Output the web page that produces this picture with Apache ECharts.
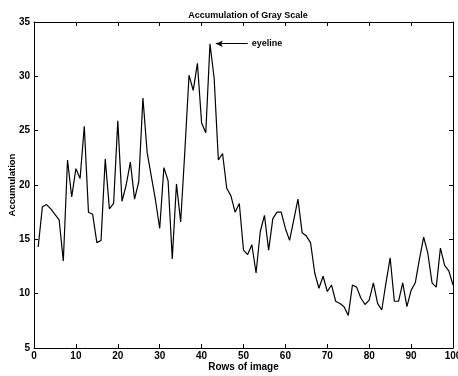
<!DOCTYPE html>
<html>
<head>
<meta charset="utf-8">
<script src="https://cdn.jsdelivr.net/npm/echarts@6/dist/echarts.min.js"></script>
<style>
  html, body { margin: 0; padding: 0; background: #fff; }
  #chart { width: 458px; height: 376px; }
</style>
</head>
<body>
<div id="chart"></div>
<script>
// rows of image 1..100 and the accumulated grey value
const rows = Array.from({ length: 100 }, (_, i) => i + 1)
const accumulation = [
  14.3, 18.0, 18.2, 17.8, 17.3, 16.8, 13.0, 22.3, 18.9, 21.5,
  20.6, 25.4, 17.5, 17.3, 14.7, 14.9, 22.4, 17.8, 18.3, 25.9,
  18.5, 20.0, 22.1, 18.7, 20.3, 28.0, 23.0, 20.8, 18.6, 16.0,
  21.6, 20.4, 13.2, 20.1, 16.6, 23.1, 30.1, 28.7, 31.2, 25.7,
  24.8, 33.0, 29.8, 22.3, 22.9, 19.7, 19.0, 17.5, 18.3, 14.0,
  13.6, 14.5, 11.9, 15.7, 17.2, 14.0, 16.9, 17.5, 17.5, 16.0,
  14.9, 16.8, 18.7, 15.6, 15.3, 14.7, 11.9, 10.5, 11.6, 10.2,
  10.8, 9.3, 9.1, 8.8, 8.0, 10.8, 10.6, 9.6, 9.0, 9.4,
  11.0, 9.1, 8.5, 11.0, 13.3, 9.3, 9.3, 11.0, 8.8, 10.3,
  11.0, 13.2, 15.2, 13.7, 11.0, 10.6, 14.2, 12.6, 12.1, 10.8
]
const xTicks = [0, 10, 20, 30, 40, 50, 60, 70, 80, 90, 100]
const yTicks = [5, 10, 15, 20, 25, 30, 35]
const peakRow = 42 // eyeline

const chart = echarts.init(document.getElementById('chart'))
const font = 'Liberation Sans, Arial, sans-serif'
const tickStyle = { color: '#000', fontFamily: font, fontWeight: 'bold', fontSize: 10 }

const axisCommon = {
  axisLine: { show: true, onZero: false, lineStyle: { color: '#000', width: 1 } },
  axisTick: { show: true, inside: true, length: 4, lineStyle: { color: '#000' } },
  splitLine: { show: false }
}

chart.setOption({
  animation: false,
  title: {
    text: 'Accumulation of Gray Scale',
    left: 243,
    textAlign: 'center',
    top: 6,
    textStyle: { color: '#000', fontFamily: font, fontWeight: 'bold', fontSize: 9 }
  },
  grid: { left: 34, right: 5, top: 22, bottom: 28, containLabel: false, outerBoundsMode: 'none' },
  xAxis: [
    {
      type: 'value',
      min: xTicks[0],
      max: xTicks[xTicks.length - 1],
      interval: 10,
      name: 'Rows of image',
      nameLocation: 'middle',
      nameGap: 14,
      nameMoveOverlap: false,
      nameTextStyle: { color: '#000', fontFamily: font, fontWeight: 'bold', fontSize: 10 },
      axisLabel: Object.assign({ margin: 3 }, tickStyle),
      ...axisCommon
    },
    {
      type: 'value',
      position: 'top',
      min: xTicks[0],
      max: xTicks[xTicks.length - 1],
      interval: 10,
      axisLabel: { show: false },
      ...axisCommon
    }
  ],
  yAxis: [
    {
      type: 'value',
      min: yTicks[0],
      max: yTicks[yTicks.length - 1],
      interval: 5,
      name: 'Accumulation',
      nameLocation: 'middle',
      nameGap: 17,
      nameMoveOverlap: false,
      nameTextStyle: { color: '#000', fontFamily: font, fontWeight: 'bold', fontSize: 9.5 },
      axisLabel: Object.assign({ margin: 4 }, tickStyle),
      ...axisCommon
    },
    {
      type: 'value',
      position: 'right',
      min: yTicks[0],
      max: yTicks[yTicks.length - 1],
      interval: 5,
      axisLabel: { show: false },
      ...axisCommon
    }
  ],
  series: [
    {
      type: 'line',
      data: rows.map((r, i) => [r, accumulation[i]]),
      showSymbol: false,
      lineStyle: { color: '#000', width: 1.2 },
      markLine: {
        silent: true,
        symbol: ['none', 'arrow'],
        symbolSize: [5, 7],
        lineStyle: { color: '#000', width: 1, type: 'solid' },
        label: {
          show: true,
          position: 'start',
          formatter: 'eyeline',
          color: '#000',
          fontFamily: font,
          fontWeight: 'bold',
          fontSize: 9,
          distance: 4
        },
        data: [[
          { coord: [peakRow + 9, accumulation[peakRow - 1]] },
          { coord: [peakRow + 1.4, accumulation[peakRow - 1]] }
        ]]
      }
    }
  ]
})
</script>
</body>
</html>
